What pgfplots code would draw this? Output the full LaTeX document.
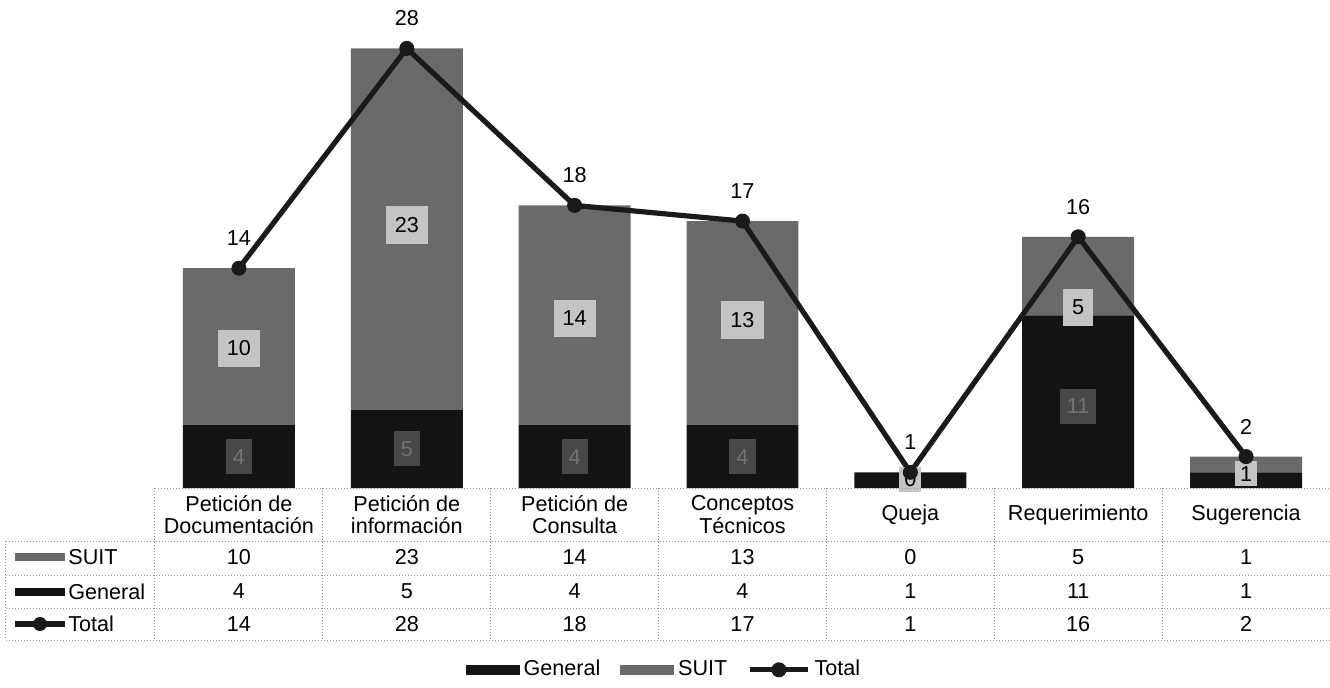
\documentclass[border=0pt]{standalone}
\usepackage{pgfplots}
\pgfplotsset{compat=1.18}
\usepackage{fontspec}
\setmainfont{Liberation Sans}
\definecolor{suit}{HTML}{6A6A6A}
\definecolor{gen}{HTML}{141414}
\definecolor{tot}{HTML}{1A1A1A}
\definecolor{gridc}{HTML}{9A9A9A}
\definecolor{suitlbl}{HTML}{C4C4C4}
\definecolor{genlbl}{HTML}{484848}
\pgfplotsset{
  totleg/.style={legend image code/.code={\draw[mark repeat=2, mark phase=2, ##1] plot coordinates {(0pt,0pt) (14.5pt,0pt) (29pt,0pt)};}},
  genleg/.style={legend image code/.code={\fill[gen] (0pt,-2.25pt) rectangle (26.5pt,2.25pt);}},
  suitleg/.style={legend image code/.code={\fill[suit] (0pt,-2.25pt) rectangle (26.5pt,2.25pt);}},
  base/.style={
    at={(0pt,0pt)}, anchor=south west, scale only axis,
    width=587.5pt, height=235.5pt,
    xmin=-0.5, xmax=6.5, ymin=0, ymax=30,
    hide axis, clip=false,
    /pgf/number format/assume math mode=true,
  }
}
\begin{document}
\fontsize{10.8}{11.2}\selectfont
\begin{tikzpicture}[font=\fontsize{10.8}{11.2}\selectfont]
\path[use as bounding box] (-77.5pt,-99.5pt) rectangle (587.5pt,244pt);
% stacked bars
\begin{axis}[base, ybar stacked, bar width=0.667]
\addplot[fill=gen, draw=none] coordinates {(0,4) (1,5) (2,4) (3,4) (4,1) (5,11) (6,1)};
\addplot[fill=suit, draw=none] coordinates {(0,10) (1,23) (2,14) (3,13) (4,0) (5,5) (6,1)};
\end{axis}
% labels, total line, legend
\begin{axis}[base,
  legend style={at={(0.434,-0.386)}, anchor=center, draw=none, fill=none,
    legend columns=3, font=\fontsize{10.8}{11.2}\selectfont,
    nodes={text height=7.8pt, text depth=2.2pt},
    /tikz/every even column/.append style={column sep=8pt}},
  legend cell align=left]
\addlegendimage{genleg}
\addlegendentry{General}
\addlegendimage{suitleg}
\addlegendentry{SUIT}
% General value labels
\addplot[draw=none, mark=none, forget plot, point meta=explicit symbolic, nodes near coords,
  every node near coord/.append style={anchor=center, fill=genlbl, text=black!55, inner xsep=3.5pt, inner ysep=5pt}]
  coordinates {(0,2)[4] (1,2.5)[5] (2,2)[4] (3,2)[4] (5,5.2)[11]};
% SUIT value labels
\addplot[draw=none, mark=none, forget plot, point meta=explicit symbolic, nodes near coords,
  every node near coord/.append style={anchor=center, fill=suitlbl, text=black, inner xsep=4.5pt, inner ysep=5.5pt}]
  coordinates {(0,8.9)[10] (1,16.75)[23] (2,10.8)[14] (3,10.7)[13] (5,11.5)[5]};
\addplot[draw=none, mark=none, forget plot, point meta=explicit symbolic, nodes near coords,
  every node near coord/.append style={anchor=center, fill=suitlbl, text=black, inner xsep=2.5pt, inner ysep=2.5pt}]
  coordinates {(4,0.55)[0] (6,0.9)[1]};
% Total line
\addplot[tot, line width=2.6pt, line join=round, mark=*, mark size=3.5pt, mark options={solid, fill=tot, line width=0.5pt},
  nodes near coords, every node near coord/.append style={anchor=center, yshift=15pt, text=black}, totleg]
  coordinates {(0,14) (1,28) (2,18) (3,17) (4,1) (5,16) (6,2)};
\addlegendentry{Total}
\end{axis}
% data table
\def\cw{83.929pt}
\begin{scope}[gridc, line width=0.5pt, densely dotted]
\draw (0pt,0pt) -- (587.5pt,0pt);
\foreach \yy in {-26.5,-43.5,-60,-76} \draw (-74.5pt,\yy pt) -- (587.5pt,\yy pt);
\draw (-74.5pt,-26.5pt) -- (-74.5pt,-76pt);
\foreach \i in {0,...,7} \draw (\i*\cw,0pt) -- (\i*\cw,-76pt);
\end{scope}
\foreach \t [count=\i from 0] in {{Petición de\\Documentación},{Petición de\\información},{Petición de\\Consulta},{Conceptos\\Técnicos},{Queja},{Requerimiento},{Sugerencia}}
  \node[align=center, inner sep=0pt] at ({(\i+0.5)*\cw},-13.25pt) {\t};
\foreach \v [count=\i from 0] in {10,23,14,13,0,5,1}
  \node[inner sep=0pt] at ({(\i+0.5)*\cw},-34.5pt) {\v};
\foreach \v [count=\i from 0] in {4,5,4,4,1,11,1}
  \node[inner sep=0pt] at ({(\i+0.5)*\cw},-51.75pt) {\v};
\foreach \v [count=\i from 0] in {14,28,18,17,1,16,2}
  \node[inner sep=0pt] at ({(\i+0.5)*\cw},-68pt) {\v};
% row keys
\fill[suit] (-70pt,-36.5pt) rectangle (-45pt,-32.5pt);
\node[anchor=west, inner sep=0pt] at (-43.5pt,-34.5pt) {SUIT};
\fill[gen] (-70pt,-53.75pt) rectangle (-45pt,-49.75pt);
\node[anchor=west, inner sep=0pt] at (-43.5pt,-51.75pt) {General};
\draw[tot, line width=2.6pt] (-70pt,-68pt) -- (-45pt,-68pt);
\fill[tot] (-57.5pt,-68pt) circle (3.5pt);
\node[anchor=west, inner sep=0pt] at (-43.5pt,-68pt) {Total};
\end{tikzpicture}
\end{document}
